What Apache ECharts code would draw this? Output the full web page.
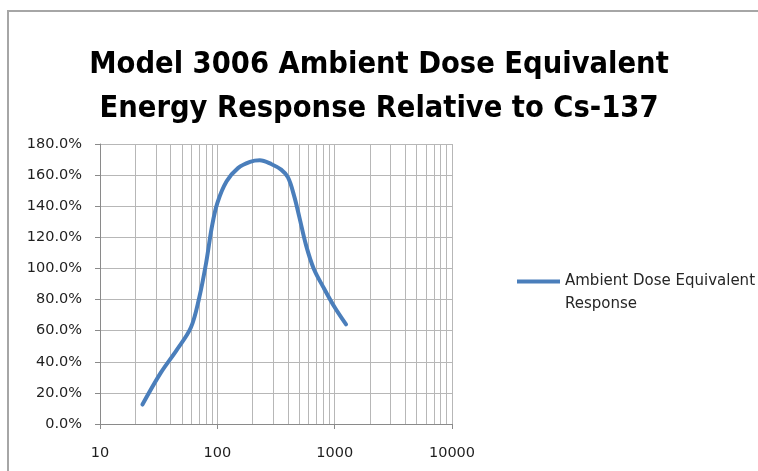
<!DOCTYPE html>
<html>
<head>
<meta charset="utf-8">
<script src="https://cdn.jsdelivr.net/npm/echarts@6/dist/echarts.min.js"></script>
<style>
html,body{margin:0;padding:0;background:#fff;}
#chart{width:758px;height:471px;}
</style>
</head>
<body>
<div id="chart"></div>
<script>
// Energy (keV) and relative response (%)
var energies = [23, 33, 45, 59.5, 70, 80, 90, 100, 120, 150, 190, 230, 290, 350, 400, 450, 500, 570, 662, 800, 1000, 1250];
var responses = [12.5, 33, 47.5, 62, 81, 103, 127, 142, 156, 164.5, 168.5, 169.5, 167, 163.5, 158.5, 147, 133, 115, 100, 88, 75, 64];
var seriesName = 'Ambient Dose Equivalent Response';
var legendLines = ['Ambient Dose Equivalent', 'Response'];
var titleLines = ['Model 3006 Ambient Dose Equivalent', 'Energy Response Relative to Cs-137'];
var yTicks = [0, 20, 40, 60, 80, 100, 120, 140, 160, 180];
var xTicks = [10, 100, 1000, 10000];
var minorXGrid = [20, 30, 40, 50, 60, 70, 80, 90, 200, 300, 400, 500, 600, 700, 800, 900, 2000, 3000, 4000, 5000, 6000, 7000, 8000, 9000];

var chart = echarts.init(document.getElementById('chart'), null, {renderer: 'canvas'});
var data = energies.map(function (e, i) { return [e, responses[i]]; });
var gridColor = '#b7b7b7';
var axisColor = '#8a8a8a';
var lineColor = '#4a7ebb';
var labelFont = 'DejaVu Sans';

chart.setOption({
  animation: false,
  backgroundColor: '#ffffff',
  graphic: [{
    type: 'rect',
    silent: true,
    shape: {x: 8, y: 11, width: 1000, height: 1000},
    style: {fill: 'none', stroke: '#a6a6a6', lineWidth: 2}
  }],
  title: {
    text: titleLines.join('\n'),
    left: 'center',
    top: 43,
    padding: 0,
    textStyle: {
      fontFamily: '"DejaVu Sans Condensed", sans-serif',
      fontWeight: 'bold',
      fontSize: 30.5,
      lineHeight: 44,
      color: '#000000'
    }
  },
  legend: {
    data: [seriesName],
    left: 517,
    top: 270,
    padding: 0,
    itemWidth: 43,
    itemHeight: 27,
    icon: 'path://M0,0 H43 V4 H0 Z M21,26.98 h0.02 v0.02 h-0.02 Z',
    itemStyle: {color: lineColor, borderWidth: 0},
    formatter: function () { return legendLines.join('\n'); },
    textStyle: {
      fontFamily: labelFont,
      fontSize: 15,
      lineHeight: 23,
      color: '#262626'
    }
  },
  grid: {left: 100, right: 306, top: 144, bottom: 47, containLabel: false},
  xAxis: {
    type: 'log',
    logBase: 10,
    min: xTicks[0],
    max: xTicks[xTicks.length - 1],
    axisLine: {show: true, lineStyle: {color: axisColor, width: 1}},
    axisTick: {show: true, length: 5, lineStyle: {color: axisColor}},
    splitLine: {show: true, lineStyle: {color: gridColor, width: 1}},
    axisLabel: {
      fontFamily: labelFont,
      fontSize: 14.5,
      color: '#1f1f1f',
      margin: 22,
      formatter: function (v) { return String(Math.round(v)); }
    }
  },
  yAxis: {
    type: 'value',
    min: yTicks[0],
    max: yTicks[yTicks.length - 1],
    interval: 20,
    axisLine: {show: true, lineStyle: {color: axisColor, width: 1}},
    axisTick: {show: true, length: 5, lineStyle: {color: axisColor}},
    splitLine: {show: true, lineStyle: {color: gridColor, width: 1}},
    axisLabel: {
      fontFamily: labelFont,
      fontSize: 14.5,
      color: '#1f1f1f',
      margin: 18,
      formatter: function (v) { return v.toFixed(1) + '%'; }
    }
  },
  series: [{
    name: seriesName,
    type: 'line',
    data: data,
    smooth: 0.35,
    showSymbol: false,
    symbol: 'none',
    z: 3,
    lineStyle: {color: lineColor, width: 4, cap: 'round', join: 'round'},
    itemStyle: {color: lineColor},
    markLine: {
      silent: true,
      symbol: 'none',
      z: 1,
      animation: false,
      label: {show: false},
      lineStyle: {color: gridColor, width: 1, type: 'solid'},
      emphasis: {disabled: true},
      data: minorXGrid.map(function (v) { return {xAxis: v}; })
    }
  }]
});
</script>
</body>
</html>
